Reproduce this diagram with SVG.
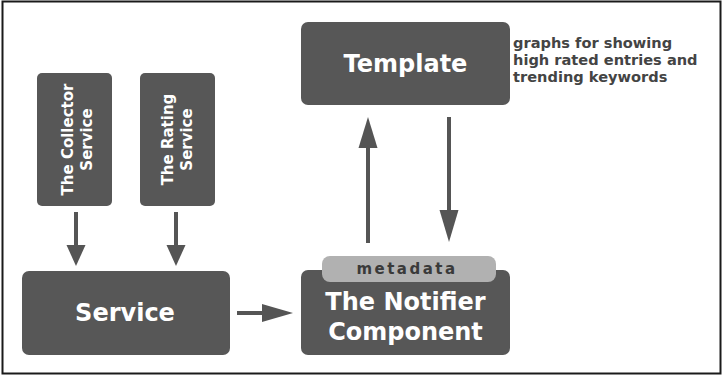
<svg xmlns="http://www.w3.org/2000/svg" width="722" height="375" viewBox="0 0 722 375">
<defs>
<style>
.box{fill:#575757;}
.big{font-family:"DejaVu Sans",sans-serif;font-weight:bold;font-size:24px;fill:#ffffff;text-anchor:middle;}
.vt{font-family:"DejaVu Sans",sans-serif;font-weight:bold;font-size:15px;fill:#ffffff;text-anchor:middle;}
.note{font-family:"DejaVu Sans",sans-serif;font-weight:bold;font-size:14.6px;fill:#444444;}
.shaft{stroke:#555555;stroke-width:4;fill:none;}
.head{fill:#555555;}
</style>
</defs>
<rect x="0" y="0" width="722" height="375" fill="#ffffff"/>
<rect x="2.5" y="1.5" width="718" height="372" fill="none" stroke="#1a1a1a" stroke-width="2"/>

<g id="template">
<rect class="box" x="301" y="22" width="209" height="83" rx="7"/>
<text class="big" x="405.5" y="72">Template</text>
</g>
<g id="note">
<text class="note" x="513" y="48">graphs for showing</text>
<text class="note" x="513" y="65">high rated entries and</text>
<text class="note" x="513" y="82">trending keywords</text>
</g>
<g id="collector">
<rect class="box" x="37" y="73" width="75" height="133" rx="5"/>
<text class="vt" transform="translate(73,139.5) rotate(-90)"><tspan x="0" y="0">The Collector</tspan><tspan x="0" y="19">Service</tspan></text>
</g>
<g id="rating">
<rect class="box" x="140" y="73" width="75" height="133" rx="5"/>
<text class="vt" transform="translate(173,139.5) rotate(-90)"><tspan x="0" y="0">The Rating</tspan><tspan x="0" y="19">Service</tspan></text>
</g>
<g id="service">
<rect class="box" x="22" y="271" width="208" height="84" rx="7"/>
<text class="big" x="125" y="321" font-size="25.5">Service</text>
</g>
<g id="notifier">
<rect class="box" x="301" y="270" width="209" height="85" rx="7"/>
<rect x="322" y="256" width="174" height="26" rx="8" fill="#b1b1b1"/>
<text x="407" y="274" font-family="DejaVu Sans, sans-serif" font-weight="bold" font-size="15" fill="#3a3a3a" text-anchor="middle" letter-spacing="2.5">metadata</text>
<text class="big" x="405.5" y="310">The Notifier</text>
<text class="big" x="405.5" y="340">Component</text>
</g>
<g id="connectors">
<line class="shaft" x1="76" y1="212" x2="76" y2="246"/>
<polygon class="head" points="66.5,245 85.5,245 76,266"/>
<line class="shaft" x1="176" y1="212" x2="176" y2="246"/>
<polygon class="head" points="166.5,245 185.5,245 176,266"/>
<line class="shaft" x1="237" y1="313" x2="263" y2="313"/>
<polygon class="head" points="262,304 262,322 293,313"/>
<line class="shaft" x1="368" y1="243" x2="368" y2="147"/>
<polygon class="head" points="358.5,148 377.5,148 368,117"/>
<line class="shaft" x1="449" y1="117" x2="449" y2="211"/>
<polygon class="head" points="439.5,210 458.5,210 449,242"/>
</g>
</svg>
